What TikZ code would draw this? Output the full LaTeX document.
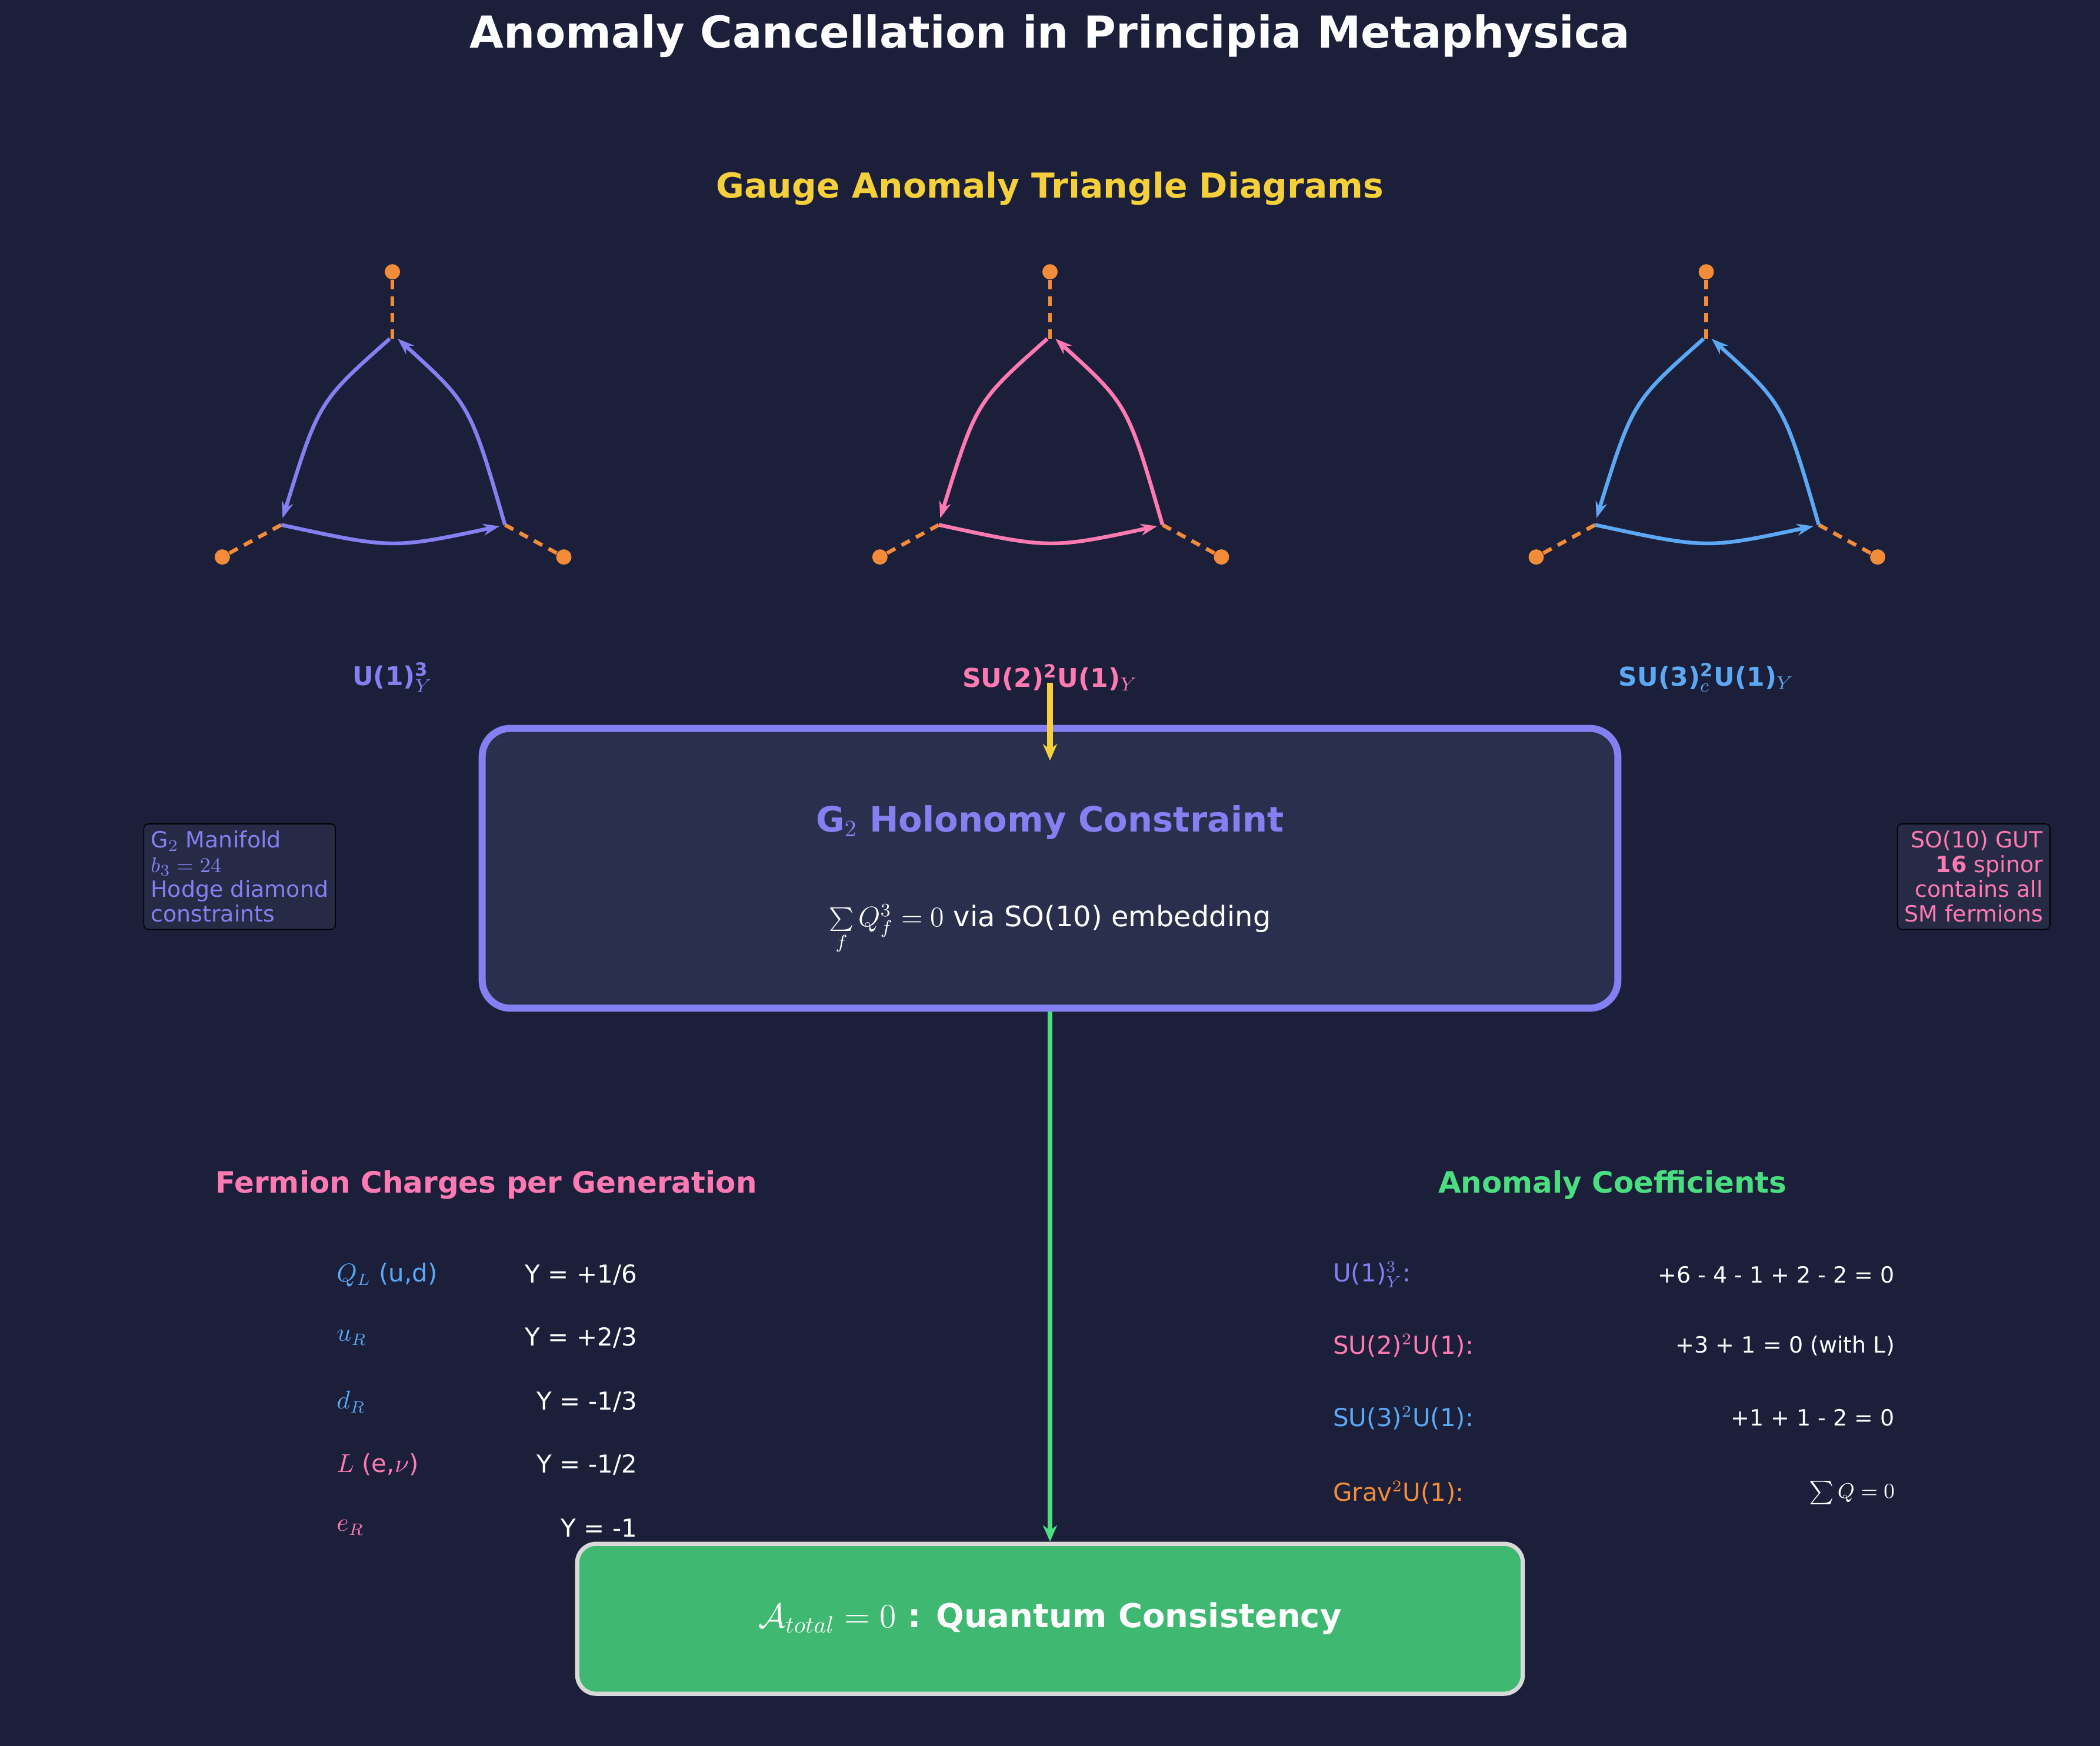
\documentclass[tikz,border=0pt]{standalone}
\usepackage{fontspec}
\setmainfont{DejaVu Sans}
\usetikzlibrary{arrows.meta}
\definecolor{bg}{HTML}{1B1F3A}
\definecolor{boxbg}{HTML}{2A2F4E}
\definecolor{sidebg}{HTML}{262A45}
\definecolor{pur}{HTML}{8480F2}
\definecolor{pnk}{HTML}{FF7AB3}
\definecolor{blu}{HTML}{5CA8F5}
\definecolor{org}{HTML}{F28C38}
\definecolor{yel}{HTML}{F5D03B}
\definecolor{grn}{HTML}{4ADE80}
\definecolor{gbox}{HTML}{3FB871}
\tikzset{
 leg/.style={org,line width=1.6pt,dash pattern=on 4pt off 3pt},
 dot/.style={circle,fill=org,inner sep=0pt,minimum size=6.5pt},
 arc/.style={line width=1.6pt,-{Stealth[length=7pt,width=5pt]}},
 side/.style={draw=black,fill=sidebg,rounded corners=2pt,font=\fontsize{9.5}{10.5}\selectfont,inner sep=3pt},
 row/.style={font=\fontsize{10.5}{12}\selectfont,inner sep=0pt},
 row2/.style={font=\fontsize{9.5}{11}\selectfont,inner sep=0pt},
 head/.style={font=\bfseries\fontsize{12.5}{14}\selectfont},
}
\newcommand{\mytri}[3]{%
 \coordinate (#3t) at (#1,253); \coordinate (#3l) at ({#1-83},392); \coordinate (#3r) at ({#1+84},392);
 \node[dot] (#3dt) at (#1,203) {}; \node[dot] (#3dl) at ({#1-127},416) {}; \node[dot] (#3dr) at ({#1+128},416) {};
 \draw[leg] (#3dt) -- (#3t); \draw[leg] (#3dl) -- (#3l); \draw[leg] (#3dr) -- (#3r);
 \draw[arc,#2] ({#1-2},253) .. controls ({#1-55},300) .. ({#1-82},387);
 \draw[arc,#2] (#3l) .. controls (#1,410) .. ({#1+80},393);
 \draw[arc,#2] (#3r) .. controls ({#1+58},302) .. ({#1+4},253);
}
\begin{document}
\begin{tikzpicture}[x=0.02cm,y=-0.02cm]
\fill[bg] (0,0) rectangle (1568,1304);
\useasboundingbox (0,0) rectangle (1568,1304);
\node[white,font=\bfseries\fontsize{18.7}{22}\selectfont] (title) at (784,27) {Anomaly Cancellation in Principia Metaphysica};
\node[yel,font=\bfseries\fontsize{14.6}{17}\selectfont] (sub) at (784,141) {Gauge Anomaly Triangle Diagrams};
\mytri{293}{pur}{a}
\mytri{784}{pnk}{b}
\mytri{1274}{blu}{c}
\node[pur,font=\bfseries\fontsize{11}{13}\selectfont] (la) at (293,506) {U(1)$^{\mathbf{3}}_{Y}$};
\node[pnk,font=\bfseries\fontsize{11}{13}\selectfont] (lb) at (784,506) {SU(2)$^{\mathbf{2}}$U(1)$_{Y}$};
\node[blu,font=\bfseries\fontsize{11}{13}\selectfont] (lc) at (1274,506) {SU(3)$^{\mathbf{2}}_{c}$U(1)$_{Y}$};
\node[draw=pur,fill=boxbg,line width=3pt,rounded corners=12pt,minimum width=848*0.02cm,minimum height=209*0.02cm] (main) at (784,648.5) {};
\coordinate (yst) at (784,510);
\coordinate (yen) at (784,568);
\draw[yel,line width=2.5pt,-{Stealth[length=7pt,width=6pt]}] (yst) -- (yen);
\node[pur,font=\bfseries\fontsize{14.8}{17}\selectfont] (mh) at (784,614) {G$_2$ Holonomy Constraint};
\node[white,font=\fontsize{12}{14}\selectfont] (mf) at (784,694) {$\sum\limits_f Q_f^3=0$ via SO(10) embedding};
\node[side,text=pur,align=left,anchor=north west] (sl) at (107,615) {G$_2$ Manifold\\$b_3=24$\\Hodge diamond\\constraints};
\node[side,text=pnk,align=right,anchor=north east] (sr) at (1531,615) {SO(10) GUT\\\textbf{16} spinor\\contains all\\SM fermions};
\node[draw=black!15,fill=gbox,line width=1.8pt,rounded corners=8pt,minimum width=706*0.02cm,minimum height=112*0.02cm,text=white,font=\bfseries\fontsize{14}{16}\selectfont] (fin) at (784,1209) {$\mathcal{A}_{total}=0$ : Quantum Consistency};
\draw[grn,line width=2pt,-{Stealth[length=7pt,width=6pt]}] (main.south) -- (fin.north);
\node[pnk,head] (fh) at (363,885) {Fermion Charges per Generation};
\node[grn,head] (ah) at (1204,885) {Anomaly Coefficients};
\foreach \y/\c/\l/\r [count=\i] in {952/blu/{$Q_L$ (u,d)}/{Y = +1/6},999/blu/{$u_R$}/{Y = +2/3},1047/blu/{$d_R$}/{Y = -1/3},1094/pnk/{$L$ (e,$\nu$)}/{Y = -1/2},1141/pnk/{$e_R$}/{Y = -1}}{
 \node[row,\c,anchor=west] (fl\i) at (251,\y) {\l};
 \node[row,white,anchor=east] (fr\i) at (476,\y) {\r};
}
\foreach \y/\c/\l/\r [count=\i] in {952/pur/{U(1)$^3_Y$:}/{+6 - 4 - 1 + 2 - 2 = 0},1005/pnk/{SU(2)$^2$U(1):}/{+3 + 1 = 0 (with L)},1059/blu/{SU(3)$^2$U(1):}/{+1 + 1 - 2 = 0},1115/org/{Grav$^2$U(1):}/{$\sum Q=0$}}{
 \node[row,\c,anchor=west] (al\i) at (995,\y) {\l};
 \node[row2,white,anchor=east] (ar\i) at (1415,\y) {\r};
}
\end{tikzpicture}
\end{document}
